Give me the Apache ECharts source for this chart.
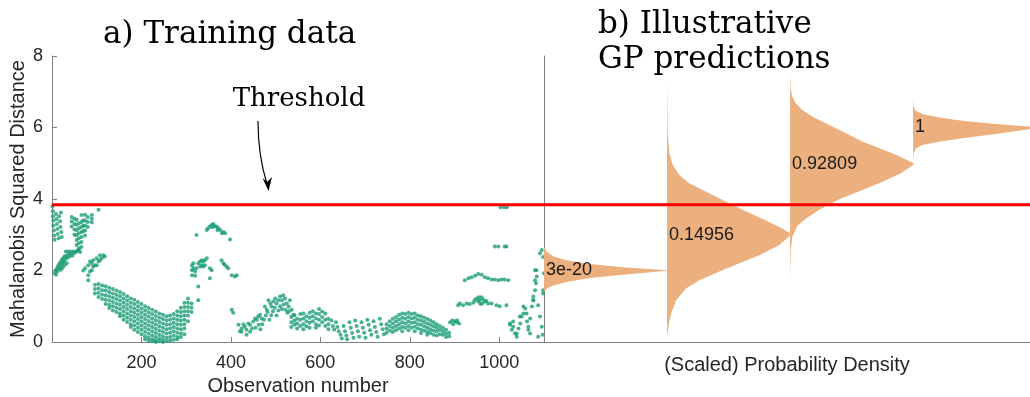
<!DOCTYPE html>
<html><head><meta charset="utf-8">
<script src="https://cdn.jsdelivr.net/npm/echarts@6/dist/echarts.min.js"></script>
<style>html,body{margin:0;padding:0;background:#fff}#c{width:1030px;height:397px}</style>
</head><body><div id="c"></div>
<script>
// ---------- DATA ----------
const thresholdValue = 3.84;
const xTickInterval = 200;

const obsTopLeft = [[1,3.80],[2,3.66],[2,3.52],[3,3.40],[3,3.26],[4,3.12],[5,2.98],[6,2.86],[9,3.58],[10,3.44],[11,3.30],[12,3.16],[13,3.02],[15,2.90],[16,3.52],[18,3.38],[19,3.22],[21,3.08],[22,2.94],[20,3.62]];
const obsRisingBand = [[6,1.92],[8,2.00],[9,1.88],[11,2.05],[12,1.97],[13,2.12],[15,2.05],[16,2.18],[18,2.10],[19,2.24],[21,2.16],[22,2.30],[24,2.22],[25,2.34],[27,2.26],[28,2.40],[30,2.32],[31,2.53],[33,2.42],[35,2.36],[36,2.53],[38,2.46],[40,2.40],[42,2.53],[44,2.48],[46,2.42],[48,2.53],[51,2.50],[54,2.53],[57,2.55],[60,2.58],[63,2.52],[33,2.20],[28,2.15],[24,2.08],[20,2.02]];
const obsWedge = [[44,3.50],[44,3.37],[44,3.23],[50,3.45],[50,3.30],[50,3.15],[50,3.00],[55,3.42],[55,3.28],[55,3.13],[55,2.99],[55,2.85],[55,2.71],[60,3.32],[60,3.18],[60,3.04],[60,2.90],[60,2.76],[60,2.62],[66,3.55],[66,3.36],[66,3.22],[66,3.08],[66,2.94],[66,2.80],[66,2.66],[70,3.40],[70,3.25],[70,3.10],[74,3.56],[74,3.40],[74,3.26],[74,3.12],[74,2.98],[80,3.50],[80,3.36],[80,3.22],[89,3.55],[89,3.45],[89,3.35],[104,3.70]];
const obsMidLeft = [[74,2.06],[81,2.15],[85,2.25],[89,2.20],[92,2.11],[96,2.15],[100,2.15],[104,2.25],[107,2.29],[111,2.34],[115,2.43],[118,2.39],[107,2.43],[85,1.97],[81,1.87],[81,1.73],[89,2.01],[92,2.29],[100,2.34],[70,2.00]];
// arc: [observation, [distances in that column]]
const obsArcColumns = [
 [96,[1.60,1.48,1.36]],[104,[1.62,1.50,1.38,1.26]],[112,[1.58,1.45,1.32,1.20]],[120,[1.56,1.44,1.31,1.18,1.06]],
 [128,[1.52,1.40,1.28,1.16,1.04,0.95]],[136,[1.48,1.36,1.24,1.12,1.00,0.88]],[144,[1.44,1.32,1.20,1.08,0.96,0.84]],
 [152,[1.40,1.28,1.16,1.04,0.92,0.80,0.72]],[160,[1.34,1.22,1.10,0.98,0.86,0.74,0.62]],[168,[1.28,1.16,1.04,0.92,0.80,0.68,0.56]],
 [176,[1.22,1.10,0.98,0.86,0.74,0.62,0.50,0.42]],[184,[1.18,1.06,0.94,0.82,0.70,0.58,0.46,0.34]],[192,[1.12,1.00,0.88,0.76,0.64,0.52,0.40,0.28]],
 [200,[1.06,0.94,0.82,0.70,0.58,0.46,0.34,0.22]],[208,[1.00,0.88,0.76,0.64,0.52,0.40,0.28,0.16,0.08]],[216,[0.95,0.83,0.71,0.59,0.47,0.35,0.23,0.12,0.04]],
 [224,[0.90,0.78,0.66,0.54,0.42,0.30,0.18,0.08,0.02]],[232,[0.85,0.73,0.61,0.49,0.37,0.25,0.14,0.05,0.00]],[240,[0.80,0.68,0.56,0.44,0.32,0.20,0.10,0.02]],
 [248,[0.76,0.64,0.52,0.40,0.28,0.16,0.06,0.00]],[256,[0.72,0.60,0.48,0.36,0.24,0.12,0.03]],[264,[0.74,0.62,0.50,0.38,0.26,0.14,0.04]],
 [272,[0.78,0.66,0.54,0.42,0.30,0.18,0.06]],[280,[0.86,0.74,0.62,0.50,0.38,0.26,0.14,0.08]],[288,[0.96,0.84,0.72,0.60,0.48,0.36,0.24,0.14]],
 [296,[1.10,0.98,0.86,0.74,0.62,0.50,0.38,0.22]],[304,[1.22,1.10,0.98,0.86,0.74,0.58]],[312,[1.08,0.96,0.84]]
];
const obsHump = [[313,2.15],[313,2.01],[313,1.87],[316,2.20],[320,1.97],[323,2.06],[327,2.20],[331,2.25],[335,2.29],[338,2.25],[342,2.29],[346,2.34],[342,2.15],[338,2.11],[353,2.06],[357,2.01],[353,1.78],[327,1.55],[316,2.06],[331,2.11],[320,1.85],[335,2.15],[327,1.17]];
const obsTopArc = [[323,2.99],[346,3.13],[349,3.18],[353,3.23],[357,3.27],[359,3.21],[361,3.30],[364,3.24],[368,3.23],[370,3.13],[372,3.18],[376,3.13],[380,3.04],[383,3.08],[387,3.04],[398,2.87]];
const obsAfterArc = [[379,2.29],[383,2.20],[390,2.11],[394,2.06],[402,1.87],[409,1.83],[413,1.87],[386,2.16],[402,0.90],[405,0.82]];
const obsWave = [[417,0.48],[424,0.38],[431,0.43],[435,0.34],[439,0.52],[443,0.48],[450,0.57],[454,0.66],[458,0.62],[461,0.71],[465,0.76],[469,0.66],[476,0.99],[480,0.90],[484,1.17],[488,1.08],[491,0.99],[495,1.13],[499,1.22],[502,1.08],[506,1.17],[510,1.27],[514,1.17],[517,1.31],[521,1.22],[525,1.08],[529,0.99],[532,1.17],[536,0.90],[540,0.76],[435,0.20],[443,0.29],[424,0.29],[470,0.50],[474,0.62],[478,0.74],[482,0.84],[486,0.62],[490,0.75],[494,0.86],[498,0.96],[502,0.74],[506,0.88],[510,1.00],[514,0.92],[518,1.05],[522,0.90],[526,0.82],[530,0.86],[455,0.40],[462,0.48],[466,0.36],[447,0.38],[428,0.50],[420,0.30]];
const obsBand600 = [[535,0.70],[535,0.55],[535,0.42],[542,0.75],[542,0.60],[542,0.48],[548,0.65],[548,0.52],[548,0.38],[555,0.78],[555,0.62],[555,0.45],[562,0.80],[562,0.66],[562,0.50],[562,0.36],[569,0.72],[569,0.58],[569,0.44],[576,0.82],[576,0.68],[576,0.54],[576,0.40],[583,0.86],[583,0.72],[583,0.58],[590,0.80],[590,0.66],[590,0.50],[590,0.40],[597,0.92],[597,0.78],[597,0.62],[597,0.46],[604,0.85],[604,0.70],[604,0.55],[611,0.80],[611,0.62],[611,0.45],[618,0.65],[618,0.50],[618,0.36]];
const obsStripes = [[625,0.60],[628,0.45],[631,0.35],[635,0.55],[638,0.42],[641,0.30],[645,0.20],[648,0.10],[652,0.45],[655,0.30],[658,0.18],[660,0.08],[665,0.55],[668,0.40],[671,0.25],[674,0.12],[678,0.60],[681,0.45],[684,0.30],[687,0.15],[692,0.55],[695,0.40],[698,0.26],[701,0.12],[705,0.62],[708,0.48],[711,0.33],[714,0.20],[719,0.58],[722,0.42],[725,0.28],[728,0.15],[733,0.65],[736,0.50],[739,0.36],[742,0.22]];
const obsBand800Columns = [
 [748,[0.50,0.38,0.26]],[755,[0.58,0.45,0.32]],[762,[0.65,0.52,0.40,0.28]],[769,[0.70,0.58,0.45,0.33]],[776,[0.76,0.63,0.50,0.38]],
 [783,[0.80,0.68,0.55,0.42,0.30]],[790,[0.78,0.65,0.52,0.40]],[797,[0.82,0.70,0.57,0.45,0.33]],[804,[0.78,0.66,0.53,0.40]],
 [811,[0.80,0.68,0.55,0.43,0.30]],[818,[0.74,0.62,0.50,0.38]],[825,[0.72,0.60,0.48,0.35,0.25]],[832,[0.68,0.56,0.44,0.32]],
 [839,[0.64,0.52,0.40,0.28,0.20]],[846,[0.60,0.48,0.36,0.25]],[853,[0.55,0.44,0.32,0.20]],[860,[0.50,0.40,0.30,0.18]],
 [867,[0.45,0.34,0.22]],[874,[0.40,0.30,0.20]],[881,[0.34,0.24,0.14]],[888,[0.26,0.16]]
];
const obsLate = [[890,0.55],[895,0.60],[900,0.58],[905,0.55],[910,0.52],[897,0.50],[906,0.60],
 [912,1.08],[919,1.03],[927,1.08],[934,1.06],[942,1.10],[945,1.17],[949,1.22],[953,1.13],[956,1.17],[960,1.25],[964,1.19],[968,1.13],[971,1.15],[975,1.08],[983,1.08],[994,1.03],[1001,1.00],[1016,1.03],[908,1.03],[954,1.25],[958,1.06],[962,1.08],
 [923,1.73],[931,1.78],[938,1.81],[946,1.85],[953,1.90],[961,1.88],[968,1.81],[975,1.78],[983,1.75],[990,1.75],[998,1.73],[1005,1.75],[1012,1.75],[1020,1.73],
 [990,2.67],[998,2.67],[1012,2.67],[1016,2.67],[1003,3.77],[1011,3.77],[1017,3.77]];
const obsEnd = [[1024,0.48],[1028,0.34],[1031,0.57],[1035,0.24],[1039,0.15],[1043,0.38],[1047,0.52],[1050,0.71],[1054,0.80],[1058,0.94],[1062,0.57],[1065,0.34],[1069,0.66],[1073,0.99],[1076,1.27],[1080,1.45],[1082,1.64],[1084,1.83],[1080,2.01],[1076,1.17],[1087,1.03],[1091,0.71],[1095,0.43],[1097,0.20],[1098,1.45],[1100,1.92],[1095,2.57],
 [1024,0.52],[1031,0.43],[1039,0.24],[1046,0.71],[1054,0.99],[1061,0.80],[1065,0.43],[1069,0.24],[1076,1.17],[1080,1.73],[1083,2.01],[1091,2.48],[1087,0.15],[1098,1.36],[1098,2.38]];

// GP predictions: outline of each scaled density as [scaled density, distance]
const predBase = [0, 1, 2, 3];
const predMean = [2.0, 3.0, 4.98, 6.0];
const predLabels = ['3e-20', '0.14956', '0.92809', '1'];
const pred1Outline = [[0,2.66],[0.008,2.62],[0.022,2.53],[0.076,2.39],[0.184,2.29],[0.373,2.18],[0.642,2.09],[1.0,2.01],[1.0,1.99],[0.642,1.88],[0.373,1.79],[0.184,1.68],[0.076,1.58],[0.022,1.50],[0.008,1.44],[0,1.40]];
const pred2Outline = [[0,7.33],[0.005,5.84],[0.019,5.28],[0.046,4.95],[0.10,4.67],[0.18,4.44],[0.317,4.20],[0.48,3.92],[0.64,3.66],[0.805,3.40],[0.94,3.17],[1.0,3.04],[1.0,2.98],[0.913,2.71],[0.75,2.43],[0.588,2.20],[0.425,1.97],[0.263,1.73],[0.154,1.50],[0.073,1.17],[0.033,0.80],[0.011,0.43],[0,0.15]];
const pred3Outline = [[0,7.56],[0.005,7.05],[0.019,6.86],[0.046,6.68],[0.10,6.49],[0.183,6.30],[0.319,6.07],[0.455,5.84],[0.591,5.60],[0.728,5.42],[0.864,5.23],[1.0,5.01],[1.0,4.95],[0.89,4.70],[0.728,4.45],[0.564,4.22],[0.40,3.99],[0.237,3.70],[0.128,3.45],[0.06,3.25],[0.019,2.95],[0.005,2.57],[0,1.70]];
const pred4Outline = [[0,6.77],[0.005,6.58],[0.022,6.47],[0.076,6.38],[0.211,6.28],[0.40,6.19],[0.67,6.10],[0.943,6.03],[1.0,6.01],[1.0,5.99],[0.943,5.95],[0.67,5.82],[0.40,5.70],[0.211,5.60],[0.076,5.51],[0.022,5.42],[0.005,5.28],[0,5.09]];

// ---------- BUILD ----------
function expandColumns(cols){ const out=[]; cols.forEach(c=>c[1].forEach(y=>out.push([c[0],y]))); return out; }
const observations = [].concat(obsTopLeft, obsRisingBand, obsWedge, obsMidLeft, expandColumns(obsArcColumns), obsHump, obsTopArc, obsAfterArc, obsWave, obsBand600, obsStripes, expandColumns(obsBand800Columns), obsLate, obsEnd);
const predOutlines = [pred1Outline, pred2Outline, pred3Outline, pred4Outline];

const AX = '#808080', TXT = '#262626', SANS = 'Liberation Sans', SERIF = '"DejaVu Serif"';
const chart = echarts.init(document.getElementById('c'), null, {renderer:'canvas'});
chart.setOption({
  animation:false,
  backgroundColor:'#fff',
  grid:[{left:52, top:56, width:492, height:286, containLabel:false, outerBoundsMode:'none'},
        {left:544, top:56, width:486, height:286, containLabel:false, outerBoundsMode:'none'}],
  xAxis:[
    {gridIndex:0, type:'value', min:0, max:1100, interval:xTickInterval,
     axisLine:{show:true, onZero:false, lineStyle:{color:AX, width:1}},
     axisTick:{show:true, inside:true, length:5, lineStyle:{color:AX}},
     axisLabel:{color:TXT, fontSize:18, fontFamily:SANS, margin:12, showMinLabel:false, showMaxLabel:false,
                formatter:function(v){ return String(v); }},
     splitLine:{show:false},
     name:'Observation number', nameLocation:'middle', nameGap:33,
     nameTextStyle:{color:TXT, fontSize:20, fontFamily:SANS}},
    {gridIndex:1, type:'value', min:0, max:3.95,
     axisLine:{show:true, onZero:false, lineStyle:{color:AX, width:1}},
     axisTick:{show:false}, axisLabel:{show:false}, splitLine:{show:false},
     name:'(Scaled) Probability Density', nameLocation:'middle', nameGap:13,
     nameTextStyle:{color:TXT, fontSize:20, fontFamily:SANS}}
  ],
  yAxis:[
    {gridIndex:0, type:'value', min:0, max:8, interval:2,
     axisLine:{show:true, onZero:false, lineStyle:{color:AX, width:1}},
     axisTick:{show:true, inside:true, length:5, lineStyle:{color:AX}},
     axisLabel:{color:TXT, fontSize:18, fontFamily:SANS, margin:9},
     splitLine:{show:false},
     name:'Mahalanobis Squared Distance', nameLocation:'middle', nameGap:24,
     nameTextStyle:{color:TXT, fontSize:20, fontFamily:SANS}},
    {gridIndex:1, type:'value', min:0, max:8,
     axisLine:{show:true, onZero:false, lineStyle:{color:AX, width:1}},
     axisTick:{show:false}, axisLabel:{show:false}, splitLine:{show:false}}
  ],
  series:[
    {type:'scatter', xAxisIndex:0, yAxisIndex:0, data:observations, symbolSize:4,
     itemStyle:{color:'#1b9e77'}, z:2, silent:true},
    {type:'custom', xAxisIndex:1, yAxisIndex:1, clip:true, z:3, silent:true,
     data: predBase.map((b,i)=>[b, predMean[i]]),
     renderItem:function(params, api){
       const i = params.dataIndex;
       const pts = predOutlines[i].map(p => api.coord([predBase[i] + p[0], p[1]]));
       const lab = api.coord([predBase[i], predMean[i]]);
       return {type:'group', children:[
         {type:'polygon', shape:{points:pts}, style:{fill:'#ecaf7e'}},
         {type:'text', x:lab[0]+2, y:lab[1], style:{text:predLabels[i], font:'18px "Liberation Sans"', fill:'#1a1a1a', align:'left', verticalAlign:'middle'}}
       ]};
     }},
    {type:'line', xAxisIndex:0, yAxisIndex:0, data:[[0,thresholdValue],[1100,thresholdValue]],
     symbol:'none', lineStyle:{color:'#ff0000', width:3}, z:10, silent:true},
    {type:'line', xAxisIndex:1, yAxisIndex:1, data:[[0,thresholdValue],[3.95,thresholdValue]],
     symbol:'none', lineStyle:{color:'#ff0000', width:3}, z:10, silent:true}
  ],
  graphic:[
    {type:'text', x:103, y:35, style:{text:'a) Training data', font:'31px '+SERIF, fill:'#000', align:'left', verticalAlign:'middle'}},
    {type:'text', x:598, y:25, style:{text:'b) Illustrative', font:'31px '+SERIF, fill:'#000', align:'left', verticalAlign:'middle'}},
    {type:'text', x:598, y:60, style:{text:'GP predictions', font:'31px '+SERIF, fill:'#000', align:'left', verticalAlign:'middle'}},
    {type:'text', x:299, y:99, style:{text:'Threshold', font:'26px '+SERIF, fill:'#000', align:'center', verticalAlign:'middle'}},
    {type:'bezierCurve', shape:{x1:258, y1:121, cpx1:258, cpy1:150, cpx2:262, cpy2:168, x2:267, y2:184}, style:{stroke:'#000', lineWidth:1.2, fill:null}},
    {type:'polygon', shape:{points:[[268.5,191],[262.5,178],[267,182],[272,177]]}, style:{fill:'#000'}}
  ]
});
</script>
</body></html>
